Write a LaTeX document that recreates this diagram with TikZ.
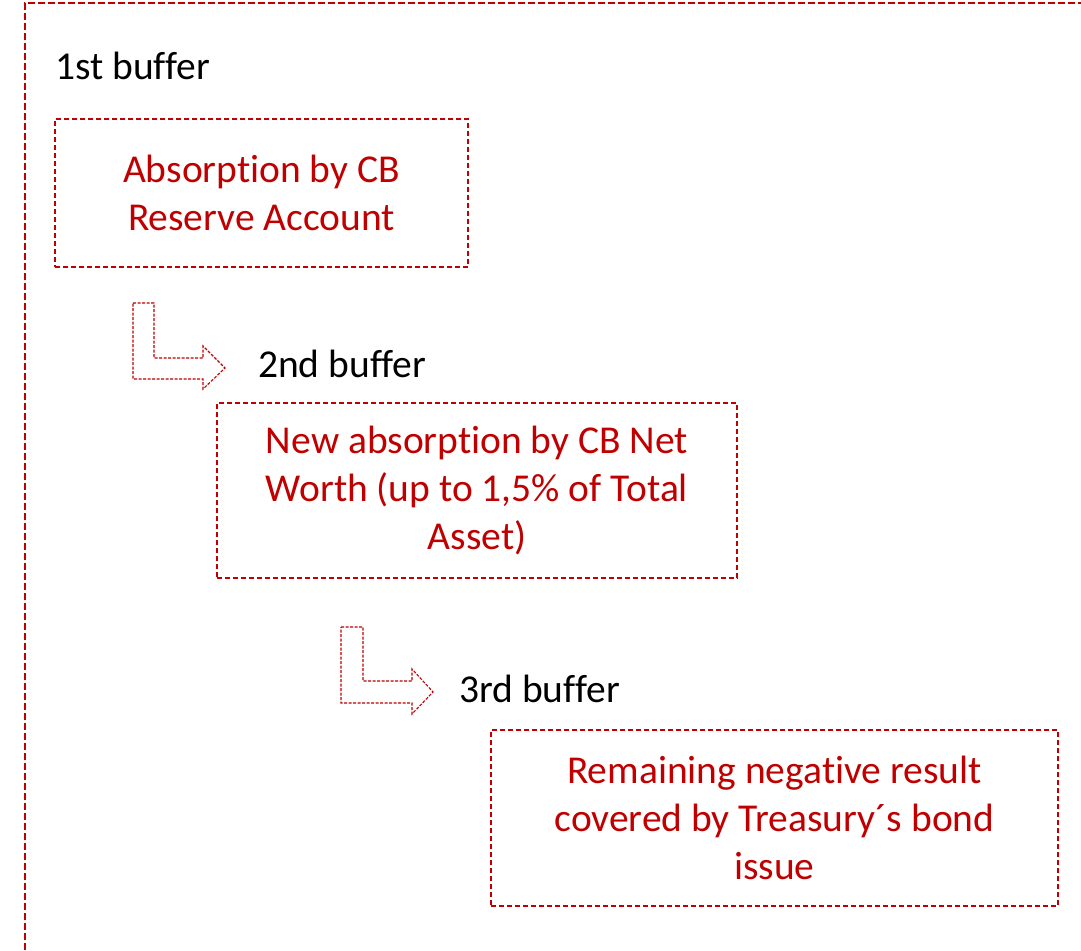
\documentclass[tikz,border=0pt]{standalone}
\usepackage{fontspec}
\setmainfont[Ligatures=NoCommon]{Carlito}
\definecolor{cbred}{HTML}{C00000}
\begin{document}
\begin{tikzpicture}[x=1pt,y=-1pt,
  txt/.style={font=\fontsize{39.5}{48}\selectfont, inner sep=0pt},
  buf/.style={txt, anchor=base west, text=black},
  bufbox/.style={draw=cbred, line width=1.9pt, dash pattern=on 5pt off 3pt,
     txt, text=cbred, align=center},
  bentarrow/.style={draw=cbred, line width=1.1pt, dash pattern=on 3pt off 1.5pt, line join=miter}
]
\useasboundingbox (0,0) rectangle (1081,950);
\begin{scope}
\clip (0,0) rectangle (1081,950);
\draw[cbred, line width=2.8pt, dash pattern=on 7pt off 3pt] (25,960) -- (25,3) -- (1090,3);
\end{scope}

\node[buf] (l1) at (55,80) {1st buffer};
\node[bufbox, minimum width=413pt, minimum height=148pt] (b1) at (261.5,193)
  {Absorption by CB\\Reserve Account};

\draw[bentarrow] (133,303) -- (154,303) -- (154,358) -- (203,358) -- (203,346) -- (225,368)
  -- (203,389) -- (203,379) -- (133,379) -- cycle;

\node[buf] (l2) at (258,377) {2nd buffer};
\node[bufbox, minimum width=520pt, minimum height=175pt] (b2) at (477,490.5)
  {New absorption by CB Net\\Worth (up to 1,5\% of Total\\Asset)};

\draw[bentarrow] (341,627) -- (363,627) -- (363,681) -- (412,681) -- (412,669) -- (433,692)
  -- (412,714) -- (412,703) -- (341,703) -- cycle;

\node[buf] (l3) at (459,702) {3rd buffer};
\node[bufbox, minimum width=567pt, minimum height=176pt] (b3) at (774.5,818)
  {Remaining negative result\\covered by Treasury´s bond\\issue};
\end{tikzpicture}
\end{document}
